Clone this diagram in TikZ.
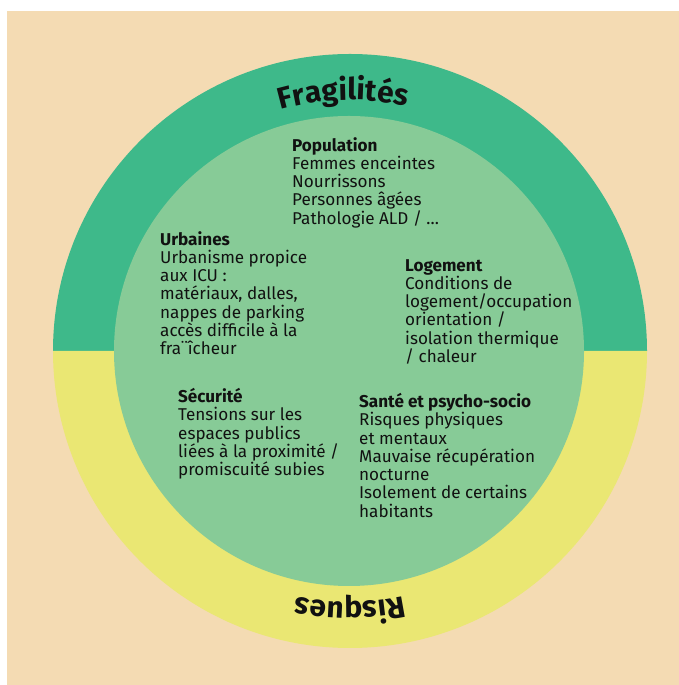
\documentclass[tikz,border=0pt]{standalone}
\usepackage{fontspec}
\setmainfont{Fira Sans}
\usetikzlibrary{decorations.text}
\definecolor{bgbeige}{HTML}{F4DBB3}
\definecolor{ringgreen}{HTML}{3EB98A}
\definecolor{ringyellow}{HTML}{EAE773}
\definecolor{innergreen}{HTML}{87CB97}
\definecolor{ink}{HTML}{111111}
\begin{document}
\begin{tikzpicture}[x=1pt,y=1pt,
  blk/.style={anchor=north west, align=left, inner sep=0pt, text=ink,
    font=\fontsize{17.1}{18.3}\selectfont},
  ringtext/.style={decorate, decoration={text along path, text align=center,
    text={|\bfseries\fontsize{30}{30}\selectfont\color{ink}|#1}}}]
\useasboundingbox (0,0) rectangle (679,685);
\fill[bgbeige] (7,0) rectangle (679,674);
\coordinate (c) at (350,334);
\fill[ringgreen] (53,334) arc[start angle=180,end angle=0,radius=297] -- cycle;
\fill[ringyellow] (647,334) arc[start angle=0,end angle=-180,radius=297] -- cycle;
\fill[innergreen] (349,334) circle[radius=235];
\path[ringtext=Fragilités] (99.3,320.9) arc[start angle=183,end angle=0,radius=251];
\path[ringtext=Risques] (601,334) arc[start angle=0,end angle=-180,radius=251];

\node[blk] (pop) at (292,548) {\textbf{Population}\\Femmes enceintes\\Nourrissons\\Personnes âgées\\Pathologie ALD / …};
\node[blk] (urb) at (160,454) {\textbf{Urbaines}\\Urbanisme propice\\aux ICU :\\matériaux, dalles,\\nappes de parking\\accès difficile à la\\fra¨îcheur};
\node[blk] (log) at (405,426) {\textbf{Logement}\\Conditions de\\logement/occupation\\orientation /\\isolation thermique\\/ chaleur};
\node[blk] (sec) at (178,297) {\textbf{Sécurité}\\Tensions sur les\\espaces publics\\liées à la proximité /\\promiscuité subies};
\node[blk] (san) at (359,292) {\textbf{Santé et psycho-socio}\\Risques physiques\\et mentaux\\Mauvaise récupération\\nocturne\\Isolement de certains\\habitants};
\end{tikzpicture}
\end{document}
